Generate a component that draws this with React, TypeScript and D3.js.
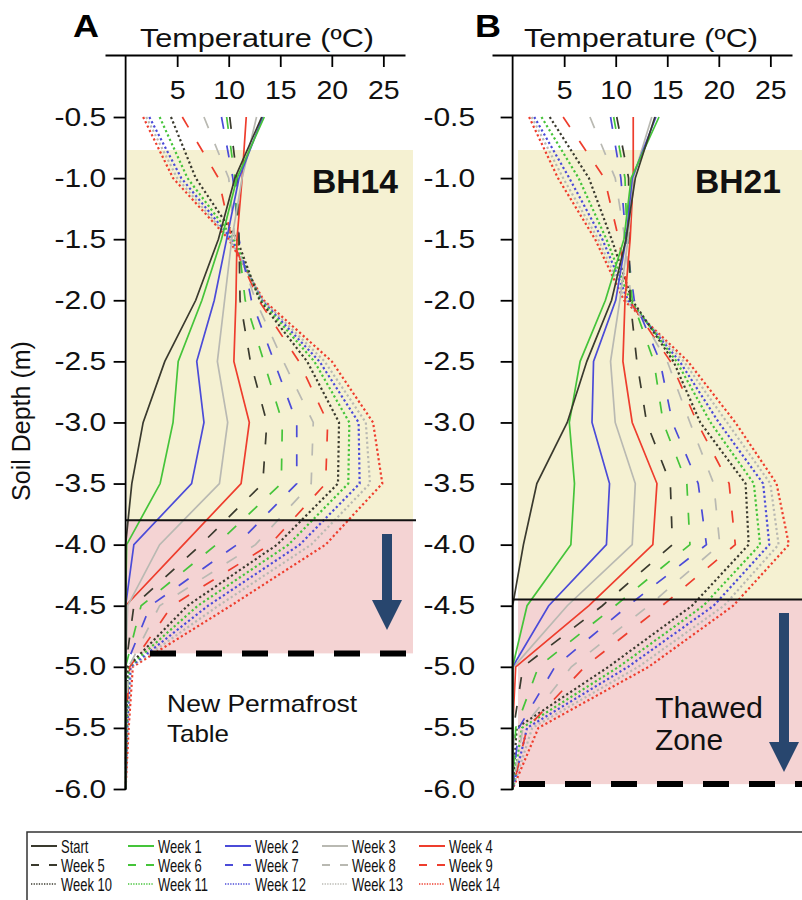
import * as d3 from "d3";
import { useEffect, useRef } from "react";

// depth of each reading (m)
const depths = [-0.5, -1.0, -1.5, -2.0, -2.5, -3.0, -3.5, -4.0, -4.5, -5.0, -5.5, -6.0];
const seriesNames = [
  "Start", "Week 1", "Week 2", "Week 3", "Week 4",
  "Week 5", "Week 6", "Week 7", "Week 8", "Week 9",
  "Week 10", "Week 11", "Week 12", "Week 13", "Week 14",
];
const tempTicks = [5, 10, 15, 20, 25];

// BH14 temperatures, one row per series (Start, Week 1 ... Week 14)
const bh14Temps = [
  [13.2, 10.6, 9.0, 6.8, 3.8, 1.7, 0.6, 0, 0, 0, 0, 0],
  [13.45, 10.8, 9.3, 7.4, 5.1, 4.6, 3.35, 0.1, 0, 0, 0, 0],
  [13.3, 11.0, 9.8, 8.6, 6.9, 7.6, 6.4, 0.8, 0, 0, 0, 0],
  [12.7, 11.3, 10.3, 9.6, 8.9, 9.9, 9.1, 3.3, 0.2, 0, 0, 0],
  [11.7, 11.3, 10.8, 10.7, 10.5, 12.0, 11.2, 5.6, 0, 0, 0, 0],
  [10.1, 10.8, 11.0, 11.1, 12.1, 13.7, 13.3, 7.3, 0.8, 0, 0, 0],
  [9.8, 10.6, 10.9, 11.6, 13.4, 15.2, 15.1, 8.8, 1.5, 0, 0, 0],
  [9.3, 10.4, 11.0, 12.2, 14.4, 16.6, 16.6, 10.8, 2.4, 0, 0, 0],
  [7.6, 10.0, 10.6, 12.6, 15.3, 18.2, 18.0, 12.6, 3.3, 0.3, 0, 0],
  [5.5, 9.0, 10.3, 12.9, 16.8, 19.6, 19.4, 14.0, 4.5, 0.4, 0, 0],
  [4.4, 6.8, 10.8, 13.0, 17.6, 20.7, 20.6, 14.7, 6.0, 0.2, 0.05, 0],
  [3.3, 6.0, 10.5, 13.1, 18.3, 21.7, 21.6, 15.8, 7.0, 0.3, 0.1, 0],
  [2.3, 5.4, 10.3, 13.2, 18.8, 22.6, 22.7, 16.9, 8.0, 0.45, 0.15, 0],
  [2.0, 5.0, 10.1, 13.3, 19.3, 23.3, 23.7, 18.0, 9.0, 0.55, 0.2, 0],
  [1.7, 4.6, 10.0, 13.4, 20.0, 24.0, 24.9, 19.4, 10.2, 0.7, 0.3, 0],
];

// BH21 temperatures, one row per series (Start, Week 1 ... Week 14)
const bh21Temps = [
  [13.8, 11.9, 11.0, 9.6, 7.2, 5.3, 2.35, 1.05, 0, 0, 0, 0],
  [14.2, 11.5, 10.8, 9.0, 6.55, 5.5, 6.0, 5.65, 1.4, 0, 0, 0],
  [13.9, 11.6, 11.0, 10.0, 7.85, 7.7, 9.4, 9.1, 3.5, 0, 0, 0],
  [13.5, 11.7, 11.2, 10.4, 9.5, 9.95, 11.9, 11.6, 5.3, 0.1, 0, 0],
  [11.7, 11.7, 11.4, 10.9, 10.7, 11.6, 14.0, 13.6, 7.4, 0.3, 0, 0],
  [10.1, 11.25, 11.3, 11.4, 12.05, 13.0, 15.3, 15.5, 8.7, 1.0, 0.1, 0],
  [9.8, 10.9, 11.1, 11.6, 13.7, 14.6, 16.9, 17.2, 9.95, 2.5, 0.3, 0],
  [9.5, 10.5, 11.0, 11.8, 14.3, 15.5, 18.0, 18.8, 11.2, 4.1, 0.6, 0],
  [7.5, 9.95, 10.9, 11.5, 15.0, 17.2, 19.5, 20.1, 13.2, 5.7, 1.0, 0],
  [4.9, 8.9, 10.3, 11.3, 15.3, 17.9, 21.0, 21.6, 14.5, 7.0, 1.4, 0],
  [3.6, 7.4, 9.6, 11.6, 15.6, 18.2, 22.6, 22.9, 17.4, 9.3, 0.4, 0],
  [2.8, 6.4, 9.1, 11.4, 15.9, 19.2, 23.4, 24.0, 18.5, 10.3, 0.9, 0],
  [2.1, 5.5, 8.7, 11.2, 16.2, 20.0, 24.3, 24.9, 19.5, 11.2, 1.4, 0],
  [1.85, 4.9, 8.3, 11.0, 16.6, 20.8, 25.0, 25.8, 20.5, 12.2, 1.9, 0],
  [1.6, 4.4, 8.0, 10.8, 17.0, 21.6, 25.6, 26.8, 21.4, 13.2, 2.5, 0],
];

// zone boundaries (m)
const zoneTop = -0.77;
const bh14Thaw = -3.8;
const bh14Table = -4.89;
const bh21Thaw = -4.45;
const bh21Table = -5.96;

const lineColors = ["#3a3a2e", "#45c43a", "#4b4bd8", "#b9b9b2", "#ee3d2d"];
const FONT = "'Liberation Sans', Arial, Helvetica, sans-serif";

const yScale = d3.scaleLinear().domain([-0.5, -6]).range([117, 789]);

function styleOf(i: number) {
  return Math.floor(i / 5); // 0 solid, 1 dashed, 2 dotted
}

function drawPanel(svg: any, p: any) {
  const x = d3.scaleLinear().domain([-2, 27.1]).range(p.xRange);
  const x0 = x(0);
  const g = svg.append("g");

  // zones
  g.append("rect")
    .attr("x", p.bgLeft)
    .attr("y", yScale(zoneTop))
    .attr("width", p.bgRight - p.bgLeft)
    .attr("height", yScale(p.thaw) - yScale(zoneTop))
    .attr("fill", "#f5f1d2");
  g.append("rect")
    .attr("x", p.bgLeft)
    .attr("y", yScale(p.thaw))
    .attr("width", p.bgRight - p.bgLeft)
    .attr("height", yScale(p.table) - yScale(p.thaw))
    .attr("fill", "#f4d3d3");

  // profiles
  const line = d3
    .line<number>()
    .x((d) => x(d))
    .y((d, i) => yScale(depths[i]));

  const rows = p.temps.map((row: number[], i: number) => ({ row, i }));
  g.selectAll("path.profile")
    .data(rows.slice().reverse())
    .enter()
    .append("path")
    .attr("class", "profile")
    .attr("d", (d: any) => line(d.row))
    .attr("fill", "none")
    .attr("stroke", (d: any) => lineColors[d.i % 5])
    .attr("stroke-width", (d: any) => (styleOf(d.i) === 2 ? 2.2 : 1.7))
    .attr("stroke-dasharray", (d: any) =>
      styleOf(d.i) === 1 ? "12,17" : styleOf(d.i) === 2 ? "2.2,2.6" : null
    );

  // thaw front line
  g.append("line")
    .attr("x1", x0)
    .attr("x2", p.hLineRight)
    .attr("y1", yScale(p.thaw))
    .attr("y2", yScale(p.thaw))
    .attr("stroke", "#111")
    .attr("stroke-width", 2);

  // permafrost table dashed line
  g.append("line")
    .attr("x1", p.dashStart)
    .attr("x2", p.dashEnd)
    .attr("y1", yScale(p.table))
    .attr("y2", yScale(p.table))
    .attr("stroke", "#000")
    .attr("stroke-width", 6)
    .attr("stroke-dasharray", "26,20");

  // arrow
  const a = p.arrow;
  g.append("rect")
    .attr("x", a.x - 5)
    .attr("y", a.top)
    .attr("width", 10)
    .attr("height", a.headTop - a.top + 1)
    .attr("fill", "#28466e");
  g.append("path")
    .attr("d", `M${a.x - 15},${a.headTop}L${a.x + 15},${a.headTop}L${a.x},${a.tip}Z`)
    .attr("fill", "#28466e");

  // top axis
  const top = g
    .append("g")
    .attr("transform", "translate(0,55)")
    .call(d3.axisBottom(x).tickValues(tempTicks).tickSize(12).tickSizeOuter(0).tickPadding(14));
  top.select(".domain").attr("stroke-width", 1.8);
  top.selectAll(".tick line").attr("stroke-width", 1.8);
  top.selectAll(".tick text")
    .attr("font-size", 25)
    .attr("font-family", FONT)
    .attr("fill", "#111")
    .attr("transform", "scale(1.14,1)");

  // left axis
  const left = g
    .append("g")
    .attr("transform", `translate(${x0},0)`)
    .call(
      d3.axisLeft(yScale).tickValues(depths).tickSize(12).tickFormat((d: any) => d.toFixed(1))
    );
  left.select(".domain").remove();
  left.selectAll(".tick line").attr("stroke-width", 1.8);
  left.selectAll(".tick text")
    .attr("font-size", 25)
    .attr("font-family", FONT)
    .attr("fill", "#111")
    .attr("x", -p.labelGap / 1.2)
    .attr("transform", "scale(1.2,1)");
  g.append("line")
    .attr("x1", x0)
    .attr("x2", x0)
    .attr("y1", 55)
    .attr("y2", yScale(-6) + 1)
    .attr("stroke", "#000")
    .attr("stroke-width", 1.8);

  // titles
  g.append("text")
    .attr("x", p.letterX)
    .attr("y", 37)
    .attr("font-family", FONT)
    .attr("font-weight", "bold")
    .attr("font-size", 32)
    .attr("textLength", 26)
    .attr("lengthAdjust", "spacingAndGlyphs")
    .text(p.letter);
  g.append("text")
    .attr("x", p.titleX)
    .attr("y", 47)
    .attr("font-family", FONT)
    .attr("font-size", 25)
    .attr("textLength", 234)
    .attr("lengthAdjust", "spacingAndGlyphs")
    .attr("fill", "#111")
    .text("Temperature (ºC)");
  g.append("text")
    .attr("x", p.siteX)
    .attr("y", 193)
    .attr("font-family", FONT)
    .attr("font-weight", "bold")
    .attr("font-size", 34)
    .attr("textLength", 86)
    .attr("lengthAdjust", "spacingAndGlyphs")
    .attr("fill", "#111")
    .text(p.site);

  p.notes.forEach((n: any) => {
    g.append("text")
      .attr("x", n.x)
      .attr("y", n.y)
      .attr("font-family", FONT)
      .attr("font-size", n.size)
      .attr("textLength", n.w)
      .attr("lengthAdjust", "spacingAndGlyphs")
      .attr("fill", "#111")
      .text(n.text);
  });
}

function ProfileChart() {
  const ref = useRef<SVGSVGElement>(null);

  useEffect(() => {
    const svg = d3.select(ref.current);
    svg.selectAll("*").remove();

    svg.append("rect").attr("width", 802).attr("height", 900).attr("fill", "#fff");

    drawPanel(svg, {
      temps: bh14Temps,
      xRange: [105, 405],
      bgLeft: 127,
      bgRight: 413,
      thaw: bh14Thaw,
      table: bh14Table,
      hLineRight: 416,
      dashStart: 150,
      dashEnd: 408,
      arrow: { x: 387, top: 534, headTop: 600, tip: 630 },
      labelGap: 19.5,
      letter: "A",
      letterX: 73,
      titleX: 140,
      site: "BH14",
      siteX: 312,
      notes: [
        { text: "New Permafrost", x: 167, y: 712, size: 24, w: 190 },
        { text: "Table", x: 167, y: 742, size: 24, w: 62 },
      ],
    });

    drawPanel(svg, {
      temps: bh21Temps,
      xRange: [492, 792],
      bgLeft: 518,
      bgRight: 802,
      thaw: bh21Thaw,
      table: bh21Table,
      hLineRight: 802,
      dashStart: 519,
      dashEnd: 802,
      arrow: { x: 784, top: 613, headTop: 742, tip: 772 },
      labelGap: 37.5,
      letter: "B",
      letterX: 475,
      titleX: 524,
      site: "BH21",
      siteX: 695,
      notes: [
        { text: "Thawed", x: 655, y: 718, size: 29, w: 108 },
        { text: "Zone", x: 655, y: 750, size: 29, w: 68 },
      ],
    });

    // y axis title
    svg.append("text")
      .attr("transform", "translate(30,421) rotate(-90)")
      .attr("text-anchor", "middle")
      .attr("font-family", FONT)
      .attr("font-size", 25)
      .attr("fill", "#111")
      .text("Soil Depth (m)");

    // legend
    const legend = svg.append("g");
    legend.append("rect")
      .attr("x", 27)
      .attr("y", 832)
      .attr("width", 800)
      .attr("height", 90)
      .attr("fill", "#fff")
      .attr("stroke", "#333")
      .attr("stroke-width", 1.5);

    const item = legend
      .selectAll("g.item")
      .data(seriesNames)
      .enter()
      .append("g")
      .attr("class", "item")
      .attr("transform", (d: string, i: number) => `translate(${31 + (i % 5) * 97},${846 + styleOf(i) * 19})`);
    item.append("line")
      .attr("x1", 0)
      .attr("x2", 26)
      .attr("stroke", (d: string, i: number) => lineColors[i % 5])
      .attr("stroke-width", (d: string, i: number) => (styleOf(i) === 2 ? 1.5 : 2))
      .attr("stroke-dasharray", (d: string, i: number) =>
        styleOf(i) === 1 ? "8,10" : styleOf(i) === 2 ? "1.3,1.3" : null
      );
    // condensed look: regular face squeezed horizontally
    item.append("text")
      .attr("transform", "translate(30,6.5) scale(0.72,1)")
      .attr("font-family", FONT)
      .attr("font-size", 18)
      .attr("fill", "#111")
      .text((d: string) => d);
  }, []);

  return (
    <svg
      ref={ref}
      width={802}
      height={900}
      style={{ position: "absolute", left: 0, top: 0, display: "block" }}
    />
  );
}

export default function App() {
  return <ProfileChart />;
}
